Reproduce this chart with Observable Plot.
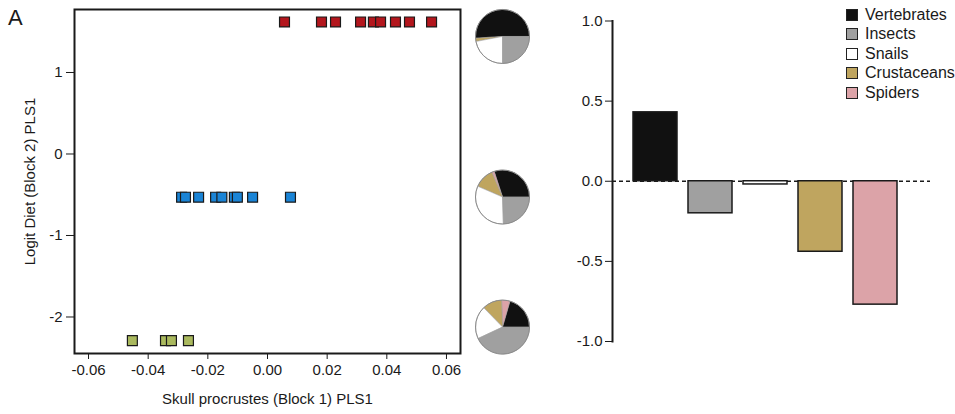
<!DOCTYPE html>
<html><head><meta charset="utf-8">
<script src="https://cdn.jsdelivr.net/npm/d3@7"></script>
<script src="https://cdn.jsdelivr.net/npm/@observablehq/plot@0.6"></script>
<style>
html,body{margin:0;padding:0;background:#fff;}
body{width:955px;height:414px;overflow:hidden;position:relative;font-family:"Liberation Sans",Arial,sans-serif;color:#1a1a1a;}
#scatter{position:absolute;left:0;top:0;}
#bars{position:absolute;left:545px;top:0;}
#panel{position:absolute;left:8px;top:7px;font-size:22px;line-height:22px;}
#legend{position:absolute;left:846px;top:5px;font-size:16px;white-space:nowrap;}
.item{display:flex;align-items:center;height:19.5px;}
.sw{width:10px;height:10px;border:1.5px solid #222;margin-right:7px;flex:none;}
</style></head><body>
<div id="scatter"></div>
<div id="bars"></div>
<div id="panel">A</div>
<div id="legend"></div>
<script>
// ---- data ----
const categories = ["Vertebrates", "Insects", "Snails", "Crustaceans", "Spiders"];
const categoryColors = ["#111111", "#a0a0a0", "#ffffff", "#bfa55f", "#dca3a8"];

// scatter groups (x = skull PLS1, all points of a group share one diet PLS1 value)
const groupY = [1.62, -0.53, -2.29];
const groupColors = ["#b3161d", "#1a84d6", "#aab95e"];
const highX = [0.0057, 0.0181, 0.0228, 0.0312, 0.0355, 0.0379, 0.0429, 0.0476, 0.0550];
const midX = [-0.0288, -0.0275, -0.0231, -0.0174, -0.0153, -0.0111, -0.0101, -0.0050, 0.0077];
const lowX = [-0.0453, -0.0342, -0.0322, -0.0265];

// diet composition pies (percent), in the order of categories
const pieHigh = [51, 25, 22, 2, 0];
const pieMid = [30, 24.5, 32, 12, 1.5];
const pieLow = [20.5, 43, 19.7, 11.7, 5];
const pieY = [1.436, -0.534, -2.13];

// bar chart: PLS1 loadings of diet block
const loadings = [0.43, -0.20, -0.02, -0.44, -0.77];

const xTicks = [-0.06, -0.04, -0.02, 0, 0.02, 0.04, 0.06];
const yTicks = [-2, -1, 0, 1];
const barTicks = [-1, -0.5, 0, 0.5, 1];
const xTitle = "Skull procrustes (Block 1) PLS1";
const yTitle = "Logit Diet (Block 2) PLS1";

// ---- tables ----
const rows = [
  ...highX.map(x => ({x, y: groupY[0], c: groupColors[0]})),
  ...midX.map(x => ({x, y: groupY[1], c: groupColors[1]})),
  ...lowX.map(x => ({x, y: groupY[2], c: groupColors[2]}))
];
const pies = [pieHigh, pieMid, pieLow];
// drawing order counter-clockwise from 3 o'clock
const pieOrder = [0, 4, 3, 2, 1];
const font = "Liberation Sans, Arial, sans-serif";

function pieMark(index, scales, values, dimensions) {
  const g = d3.create("svg:g");
  const cx = dimensions.width - dimensions.marginRight + 42.5;
  const r = 27;
  const arc = d3.arc().innerRadius(0).outerRadius(r);
  pies.forEach((p, i) => {
    const vals = pieOrder.map(k => ({v: p[k], col: categoryColors[k]}));
    const arcs = d3.pie().sort(null).value(d => d.v)
      .startAngle(Math.PI / 2).endAngle(Math.PI / 2 - 2 * Math.PI)(vals);
    const cy = scales.y(pieY[i]);
    const gg = g.append("g").attr("transform", `translate(${cx},${cy})`);
    gg.selectAll("path").data(arcs.filter(a => a.data.v > 0)).join("path")
      .attr("d", arc).attr("fill", d => d.data.col)
      .attr("stroke", "#9a9a9a").attr("stroke-width", 0.5);
    gg.append("circle").attr("r", r).attr("fill", "none").attr("stroke", "#8a8a8a").attr("stroke-width", 1);
  });
  return g.node();
}

const scatter = Plot.plot({
  width: 545, height: 414,
  marginLeft: 74, marginRight: 85, marginTop: 9, marginBottom: 61,
  x: {domain: [-0.0647, 0.0647]},
  y: {domain: [-2.448, 1.773]},
  style: {fontFamily: font, fontSize: "15px", color: "#1a1a1a", background: "white", overflow: "visible"},
  marks: [
    Plot.axisX({ticks: xTicks, tickFormat: d => d.toFixed(2), tickSize: 6, tickPadding: 5, fontSize: 15,
      label: xTitle, labelAnchor: "center", labelOffset: 50, labelArrow: "none"}),
    Plot.axisY({ticks: yTicks, tickFormat: d => String(d), tickSize: 8, tickPadding: 4, fontSize: 15,
      label: yTitle, labelAnchor: "center", labelOffset: 50, labelArrow: "none"}),
    Plot.dot(rows, {x: "x", y: "y", symbol: "square", r: 5.6, fill: "c", stroke: "#1a1a1a", strokeWidth: 1.2}),
    Plot.frame({stroke: "#1a1a1a", strokeWidth: 2}),
    pieMark
  ]
});
document.getElementById("scatter").append(scatter);

const barRows = categories.map((name, i) => ({name, v: loadings[i], c: categoryColors[i]}));
const bars = Plot.plot({
  width: 410, height: 414,
  marginLeft: 67, marginRight: 38, marginTop: 20.5, marginBottom: 73,
  x: {domain: categories, paddingInner: 0.2, paddingOuter: 0.37, axis: null},
  y: {domain: [-1, 1]},
  style: {fontFamily: font, fontSize: "15px", color: "#1a1a1a", background: "white", overflow: "visible"},
  marks: [
    Plot.axisY({ticks: barTicks, tickFormat: d => d.toFixed(1), tickSize: 7, tickPadding: 3, fontSize: 15, label: null}),
    Plot.ruleY([0], {stroke: "#1a1a1a", strokeWidth: 1.3, strokeDasharray: "4,3", insetRight: -13}),
    Plot.barY(barRows, {x: "name", y: "v", fill: "c", stroke: "#1a1a1a", strokeWidth: 1.5}),
    Plot.frame({anchor: "left", stroke: "#1a1a1a", strokeWidth: 2})
  ]
});
document.getElementById("bars").append(bars);

const legend = document.getElementById("legend");
categories.forEach((name, i) => {
  const it = document.createElement("div");
  it.className = "item";
  const sw = document.createElement("span");
  sw.className = "sw";
  sw.style.background = categoryColors[i];
  const t = document.createElement("span");
  t.textContent = name;
  it.append(sw, t);
  legend.append(it);
});
</script>
</body></html>
